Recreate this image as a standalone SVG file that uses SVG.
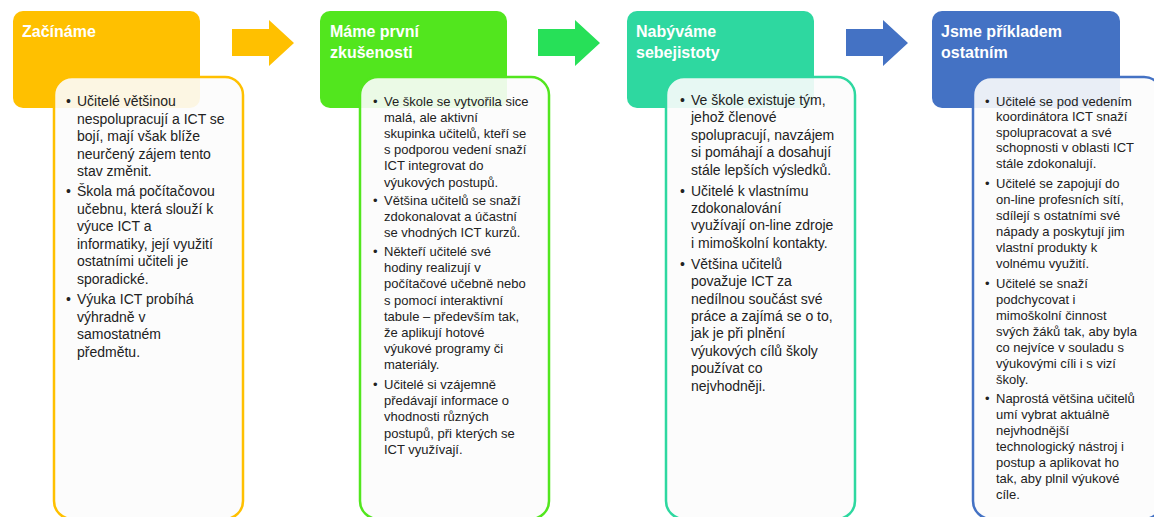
<svg xmlns="http://www.w3.org/2000/svg" width="1154" height="517" viewBox="0 0 1154 517">
<style>
.hdr{stroke:none}
.title{font-family:"Liberation Sans",Arial,sans-serif;font-weight:bold;font-size:16px;fill:#ffffff}
.body{fill:#fcfcfc;fill-opacity:0.9;stroke-width:2.5}
.t14{font-family:"Liberation Sans",Arial,sans-serif;font-size:14px;fill:#222222}
.t13{font-family:"Liberation Sans",Arial,sans-serif;font-size:13px;fill:#222222}
</style>
<rect width="1154" height="517" fill="#ffffff"/>
<g id="connectors">
<path d="M232,29 H269 V20 L294,43 L269,66 V56 H232 Z" fill="#FFC000"/>
<path d="M538,29 H575 V20 L600,43 L575,66 V56 H538 Z" fill="#27E058"/>
<path d="M846,29 H883 V20 L908,43 L883,66 V56 H846 Z" fill="#4472C4"/>
</g>
<g id="node1">
<rect class="hdr" x="13" y="11" width="187" height="97" rx="10" fill="#FFC000"/>
<text class="title" x="22" y="37">Začínáme</text>
<rect class="body" x="54" y="77" width="189" height="442" rx="18" stroke="#FFC000"/>
<text class="t14">
<tspan x="66" y="106">•</tspan><tspan x="77" y="106">Učitelé většinou</tspan>
<tspan x="77" y="123.5">nespolupracují a ICT se</tspan>
<tspan x="77" y="141">bojí, mají však blíže</tspan>
<tspan x="77" y="158.5">neurčený zájem tento</tspan>
<tspan x="77" y="176">stav změnit.</tspan>
<tspan x="66" y="196">•</tspan><tspan x="77" y="196">Škola má počítačovou</tspan>
<tspan x="77" y="213.5">učebnu, která slouží k</tspan>
<tspan x="77" y="231">výuce ICT a</tspan>
<tspan x="77" y="248.5">informatiky, její využití</tspan>
<tspan x="77" y="266">ostatními učiteli je</tspan>
<tspan x="77" y="283.5">sporadické.</tspan>
<tspan x="66" y="304">•</tspan><tspan x="77" y="304">Výuka ICT probíhá</tspan>
<tspan x="77" y="321.5">výhradně v</tspan>
<tspan x="77" y="339">samostatném</tspan>
<tspan x="77" y="356.5">předmětu.</tspan>
</text>
</g>
<g id="node2">
<rect class="hdr" x="320" y="11" width="187" height="97" rx="10" fill="#52E61E"/>
<text class="title"><tspan x="330" y="37">Máme první</tspan><tspan x="330" y="58">zkušenosti</tspan></text>
<rect class="body" x="360" y="77" width="189" height="442" rx="18" stroke="#52E61E"/>
<text class="t13">
<tspan x="373" y="105.5">•</tspan><tspan x="384" y="105.5">Ve škole se vytvořila sice</tspan>
<tspan x="384" y="121.7">malá, ale aktivní</tspan>
<tspan x="384" y="137.9">skupinka učitelů, kteří se</tspan>
<tspan x="384" y="154.1">s podporou vedení snaží</tspan>
<tspan x="384" y="170.3">ICT integrovat do</tspan>
<tspan x="384" y="186.5">výukových postupů.</tspan>
<tspan x="373" y="205">•</tspan><tspan x="384" y="205">Většina učitelů se snaží</tspan>
<tspan x="384" y="221.2">zdokonalovat a účastní</tspan>
<tspan x="384" y="237.4">se vhodných ICT kurzů.</tspan>
<tspan x="373" y="256">•</tspan><tspan x="384" y="256">Někteří učitelé své</tspan>
<tspan x="384" y="272.2">hodiny realizují v</tspan>
<tspan x="384" y="288.4">počítačové učebně nebo</tspan>
<tspan x="384" y="304.6">s pomocí interaktivní</tspan>
<tspan x="384" y="320.8">tabule – především tak,</tspan>
<tspan x="384" y="337">že aplikují hotové</tspan>
<tspan x="384" y="353.2">výukové programy či</tspan>
<tspan x="384" y="369.4">materiály.</tspan>
<tspan x="373" y="389">•</tspan><tspan x="384" y="389">Učitelé si vzájemně</tspan>
<tspan x="384" y="405.2">předávají informace o</tspan>
<tspan x="384" y="421.4">vhodnosti různých</tspan>
<tspan x="384" y="437.6">postupů, při kterých se</tspan>
<tspan x="384" y="453.8">ICT využívají.</tspan>
</text>
</g>
<g id="node3">
<rect class="hdr" x="627" y="11" width="187" height="97" rx="10" fill="#2ED8A0"/>
<text class="title"><tspan x="636" y="37">Nabýváme</tspan><tspan x="636" y="58">sebejistoty</tspan></text>
<rect class="body" x="666" y="77" width="189" height="442" rx="18" stroke="#2ED8A0"/>
<text class="t14">
<tspan x="680" y="105">•</tspan><tspan x="691" y="105">Ve škole existuje tým,</tspan>
<tspan x="691" y="122.4">jehož členové</tspan>
<tspan x="691" y="139.8">spolupracují, navzájem</tspan>
<tspan x="691" y="157.2">si pomáhají a dosahují</tspan>
<tspan x="691" y="174.6">stále lepších výsledků.</tspan>
<tspan x="680" y="195.5">•</tspan><tspan x="691" y="195.5">Učitelé k vlastnímu</tspan>
<tspan x="691" y="213">zdokonalování</tspan>
<tspan x="691" y="230.4">využívají on-line zdroje</tspan>
<tspan x="691" y="247.8">i mimoškolní kontakty.</tspan>
<tspan x="680" y="268.8">•</tspan><tspan x="691" y="268.8">Většina učitelů</tspan>
<tspan x="691" y="286.2">považuje ICT za</tspan>
<tspan x="691" y="303.6">nedílnou součást své</tspan>
<tspan x="691" y="321">práce a zajímá se o to,</tspan>
<tspan x="691" y="338.4">jak je při plnění</tspan>
<tspan x="691" y="355.8">výukových cílů školy</tspan>
<tspan x="691" y="373.2">používat co</tspan>
<tspan x="691" y="390.6">nejvhodněji.</tspan>
</text>
</g>
<g id="node4">
<rect class="hdr" x="932" y="11" width="188" height="97" rx="10" fill="#4472C4"/>
<text class="title"><tspan x="941" y="37">Jsme příkladem</tspan><tspan x="941" y="58">ostatním</tspan></text>
<rect class="body" x="973" y="77" width="189" height="442" rx="18" stroke="#4472C4"/>
<text class="t13">
<tspan x="985" y="105.5">•</tspan><tspan x="996" y="105.5">Učitelé se pod vedením</tspan>
<tspan x="996" y="121">koordinátora ICT snaží</tspan>
<tspan x="996" y="136.5">spolupracovat a své</tspan>
<tspan x="996" y="152">schopnosti v oblasti ICT</tspan>
<tspan x="996" y="167.5">stále zdokonalují.</tspan>
<tspan x="985" y="187.5">•</tspan><tspan x="996" y="187.5">Učitelé se zapojují do</tspan>
<tspan x="996" y="203.5">on-line profesních sítí,</tspan>
<tspan x="996" y="219.5">sdílejí s ostatními své</tspan>
<tspan x="996" y="235.5">nápady a poskytují jim</tspan>
<tspan x="996" y="251.5">vlastní produkty k</tspan>
<tspan x="996" y="267.5">volnému využití.</tspan>
<tspan x="985" y="287.5">•</tspan><tspan x="996" y="287.5">Učitelé se snaží</tspan>
<tspan x="996" y="303.5">podchycovat i</tspan>
<tspan x="996" y="319.5">mimoškolní činnost</tspan>
<tspan x="996" y="335.5">svých žáků tak, aby byla</tspan>
<tspan x="996" y="351.5">co nejvíce v souladu s</tspan>
<tspan x="996" y="367.5">výukovými cíli i s vizí</tspan>
<tspan x="996" y="383.5">školy.</tspan>
<tspan x="985" y="402.5">•</tspan><tspan x="996" y="402.5">Naprostá většina učitelů</tspan>
<tspan x="996" y="418.5">umí vybrat aktuálně</tspan>
<tspan x="996" y="434.5">nejvhodnější</tspan>
<tspan x="996" y="450.5">technologický nástroj i</tspan>
<tspan x="996" y="466.5">postup a aplikovat ho</tspan>
<tspan x="996" y="482.5">tak, aby plnil výukové</tspan>
<tspan x="996" y="498.5">cíle.</tspan>
</text>
</g>
</svg>
